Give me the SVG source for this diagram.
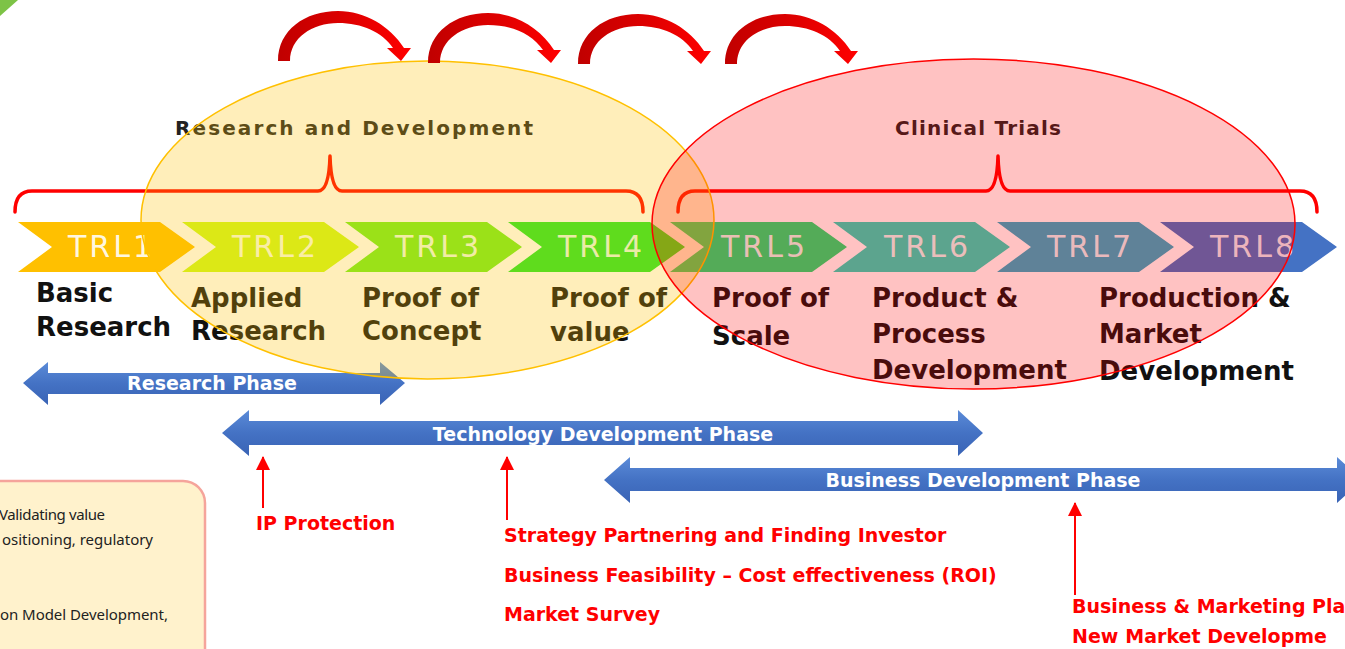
<svg xmlns="http://www.w3.org/2000/svg" width="1345" height="649" viewBox="0 0 1345 649">
<defs>
<style>
.trl{font-family:"DejaVu Sans",Verdana,sans-serif;font-size:30px;fill:#ffffff;fill-opacity:0.9;text-anchor:middle}
.lbl{font-family:"DejaVu Sans",Verdana,sans-serif;font-size:26px;font-weight:bold;fill:#111111}
.hdr{font-family:"DejaVu Sans",Verdana,sans-serif;font-size:20px;font-weight:bold;fill:#222222;text-anchor:middle}
.ph{font-family:"DejaVu Sans",Verdana,sans-serif;font-size:19px;font-weight:bold;fill:#ffffff;text-anchor:middle}
.note{font-family:"DejaVu Sans",Verdana,sans-serif;font-size:19px;font-weight:bold;fill:#ff0000}
.box{font-family:"Noto Sans","Liberation Sans",sans-serif;font-size:15px;fill:#222222}
.brace{fill:none;stroke:#ff0000;stroke-width:3.5;stroke-linejoin:round;stroke-linecap:round}
.blue{fill:url(#blueGrad)}
.up{stroke:#ff0000;stroke-width:2;fill:none;marker-end:url(#upHead)}
</style>
<linearGradient id="blueGrad" x1="0" y1="0" x2="0" y2="1"><stop offset="0" stop-color="#5b8bd8"/><stop offset="0.5" stop-color="#4472c4"/><stop offset="1" stop-color="#3963b5"/></linearGradient>
<linearGradient id="redGrad" x1="0" y1="0" x2="1" y2="0"><stop offset="0" stop-color="#c00000"/><stop offset="0.55" stop-color="#e00000"/><stop offset="1" stop-color="#ff0000"/></linearGradient>
<marker id="upHead" markerUnits="userSpaceOnUse" markerWidth="16" markerHeight="16" refX="13" refY="7" orient="auto"><path d="M0,0 L14,7 L0,14 Z" fill="#ff0000"/></marker>
<path id="curve" d="M278,61 C278,30 305,11 338,11 C365,11 390,26 404,48 L411,48 L401,61 L387,48 L393,48 C382,32 362,23 338,23 C312,23 290,38 290,61 Z" fill="url(#redGrad)"/>
</defs>
<rect width="1345" height="649" fill="#ffffff"/>
<polygon points="0,0 18,0 0,16" fill="#7dc346"/>

<g id="braces">
<path class="brace" d="M15,212 Q15,191 32,191 L318,191 Q329,191 330,156 Q331,191 342,191 L626,191 Q643,191 643,212"/>
<path class="brace" d="M678,212 Q678,191 695,191 L986,191 Q997,191 998,156 Q999,191 1010,191 L1300,191 Q1317,191 1317,212"/>
</g>
<g id="rd-label"><text class="hdr" x="354" y="135" textLength="358" lengthAdjust="spacing">Research and Development</text></g>
<g id="ct-label"><text class="hdr" x="978" y="135" textLength="166" lengthAdjust="spacing">Clinical Trials</text></g>

<g id="trl1"><polygon points="18,222 160,222 195,247 160,272 18,272 52,247" fill="#ffc000"/><text class="trl" x="110" y="257" textLength="84" lengthAdjust="spacing">TRL1</text>
<text class="lbl" x="36" y="302">Basic</text><text class="lbl" x="36" y="336">Research</text></g>
<g id="trl2"><polygon points="182,222 324,222 359,247 324,272 182,272 216,247" fill="#cff71f"/><text class="trl" x="274" y="257" textLength="84" lengthAdjust="spacing">TRL2</text>
<text class="lbl" x="191" y="307">Applied</text><text class="lbl" x="191" y="340">Research</text></g>
<g id="trl3"><polygon points="345,222 487,222 522,247 487,272 345,272 379,247" fill="#76ee22"/><text class="trl" x="437" y="257" textLength="84" lengthAdjust="spacing">TRL3</text>
<text class="lbl" x="362" y="307">Proof of</text><text class="lbl" x="362" y="340">Concept</text></g>
<g id="trl4"><polygon points="508,222 650,222 685,247 650,272 508,272 542,247" fill="#24e629"/><text class="trl" x="600" y="257" textLength="84" lengthAdjust="spacing">TRL4</text>
<text class="lbl" x="550" y="307">Proof of</text><text class="lbl" x="550" y="341">value</text></g>
<g id="trl5"><polygon points="670,222 812,222 847,247 812,272 670,272 704,247" fill="#1fe174"/><text class="trl" x="763" y="257" textLength="84" lengthAdjust="spacing">TRL5</text>
<text class="lbl" x="712" y="307">Proof of</text><text class="lbl" x="712" y="345">Scale</text></g>
<g id="trl6"><polygon points="833,222 975,222 1010,247 975,272 833,272 867,247" fill="#29d8bb"/><text class="trl" x="926" y="257" textLength="84" lengthAdjust="spacing">TRL6</text>
<text class="lbl" x="872" y="307">Product &amp;</text><text class="lbl" x="872" y="343">Process</text><text class="lbl" x="872" y="379">Development</text></g>
<g id="trl7"><polygon points="997,222 1139,222 1174,247 1139,272 997,272 1031,247" fill="#2dabc8"/><text class="trl" x="1089" y="257" textLength="84" lengthAdjust="spacing">TRL7</text></g>
<g id="trl8"><polygon points="1160,222 1302,222 1337,247 1302,272 1160,272 1194,247" fill="#4472c4"/><text class="trl" x="1252" y="257" textLength="84" lengthAdjust="spacing">TRL8</text>
<text class="lbl" x="1099" y="307">Production &amp;</text><text class="lbl" x="1099" y="343">Market</text><text class="lbl" x="1099" y="380">Development</text></g>

<g id="research-phase"><polygon class="blue" points="23,383 48,362 48,373 380,373 380,362 405,383 380,405 380,394 48,394 48,405"/><text class="ph" x="212" y="390">Research Phase</text></g>
<g id="technology-phase"><polygon class="blue" points="222,433 249,410 249,421 958,421 958,410 983,433 958,456 958,445 249,445 249,456"/><text class="ph" x="603" y="441">Technology Development Phase</text></g>
<g id="business-phase"><polygon class="blue" points="604,480 630,457 630,468 1337,468 1337,457 1362,480 1337,503 1337,491 630,491 630,503"/><text class="ph" x="983" y="487">Business Development Phase</text></g>

<g id="note-box"><rect x="-20" y="481" width="225" height="200" rx="22" fill="#fff2cc" stroke="#f5a49b" stroke-width="2.5"/>
<text class="box" x="-1" y="520" textLength="106" lengthAdjust="spacing">Validating value</text>
<text class="box" x="2" y="545" textLength="151" lengthAdjust="spacing">ositioning, regulatory</text>
<text class="box" x="0" y="620" textLength="168" lengthAdjust="spacing">on Model Development,</text></g>

<g id="connectors">
<line class="up" x1="263" y1="508" x2="263" y2="457"/>
<line class="up" x1="507" y1="520" x2="507" y2="457"/>
<line class="up" x1="1075" y1="595" x2="1075" y2="503"/>
</g>
<g id="ip"><text class="note" x="256" y="530">IP Protection</text></g>
<g id="strategy"><text class="note" x="504" y="542">Strategy Partnering and Finding Investor</text>
<text class="note" x="504" y="582">Business Feasibility – Cost effectiveness (ROI)</text>
<text class="note" x="504" y="621">Market Survey</text></g>
<g id="business"><text class="note" x="1072" y="613">Business &amp; Marketing Pla</text>
<text class="note" x="1072" y="643">New<tspan dx="7">Market Developme</tspan></text></g>

<g id="rd-ellipse"><ellipse cx="427.5" cy="220" rx="286.5" ry="159" fill="#ffc000" fill-opacity="0.27" stroke="#ffc000" stroke-width="1.5"/></g>
<g id="ct-ellipse"><ellipse cx="973.5" cy="224" rx="321.5" ry="165" fill="#ff0000" fill-opacity="0.24" stroke="#ff0000" stroke-width="1.5"/></g>

<g id="curved-arrows">
<use href="#curve"/>
<use href="#curve" transform="translate(150,2)"/>
<use href="#curve" transform="translate(300,3)"/>
<use href="#curve" transform="translate(447,3)"/>
</g>
</svg>
